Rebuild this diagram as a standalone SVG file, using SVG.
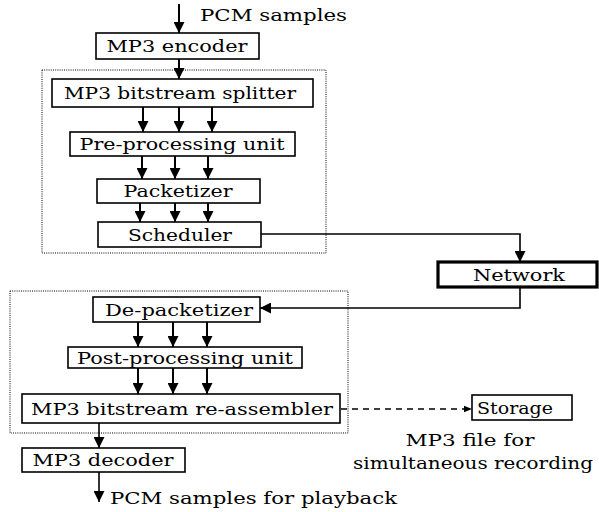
<svg xmlns="http://www.w3.org/2000/svg" width="599" height="512" viewBox="0 0 599 512">
<style>
.box{fill:#fff;stroke:#000;stroke-width:1.6}
.thick{fill:#fff;stroke:#000;stroke-width:3.2}
.dot{fill:none;stroke:#000;stroke-width:1;stroke-dasharray:1 1.2}
text{font-family:"DejaVu Serif","Liberation Serif",serif;font-size:16px;fill:#000}
.m{text-anchor:middle}
.ln{fill:none;stroke:#000;stroke-width:1.6}
.ln2{fill:none;stroke:#000;stroke-width:2}
.dash{fill:none;stroke:#000;stroke-width:1.4;stroke-dasharray:6 5}
</style>
<defs>
<marker id="ah" markerUnits="userSpaceOnUse" markerWidth="11" markerHeight="11" refX="10" refY="5" orient="auto" viewBox="0 0 10 10">
<path d="M0,0 L10,5 L0,10 z" fill="#000"/>
</marker>
<marker id="ahs" markerUnits="userSpaceOnUse" markerWidth="9" markerHeight="8" refX="10" refY="5" orient="auto" viewBox="0 0 10 10">
<path d="M0,1 L10,5 L0,9 z" fill="#000"/>
</marker>
</defs>

<rect class="dot" x="42" y="70" width="284" height="183"/>
<rect class="dot" x="10" y="291" width="338" height="142"/>

<g id="connectors">
<line class="ln2" x1="179" y1="4" x2="179" y2="33" marker-end="url(#ah)"/>
<line class="ln2" x1="179" y1="59" x2="179" y2="79" marker-end="url(#ah)"/>
<line class="ln2" x1="143" y1="107" x2="143" y2="132" marker-end="url(#ah)"/>
<line class="ln2" x1="179" y1="107" x2="179" y2="132" marker-end="url(#ah)"/>
<line class="ln2" x1="212" y1="107" x2="212" y2="132" marker-end="url(#ah)"/>
<line class="ln2" x1="142" y1="156" x2="142" y2="179" marker-end="url(#ah)"/>
<line class="ln2" x1="175" y1="156" x2="175" y2="179" marker-end="url(#ah)"/>
<line class="ln2" x1="208" y1="156" x2="208" y2="179" marker-end="url(#ah)"/>
<line class="ln2" x1="140" y1="203" x2="140" y2="222" marker-end="url(#ah)"/>
<line class="ln2" x1="175" y1="203" x2="175" y2="222" marker-end="url(#ah)"/>
<line class="ln2" x1="208" y1="203" x2="208" y2="222" marker-end="url(#ah)"/>
<polyline class="ln" points="261,234 520,234 520,262" marker-end="url(#ah)"/>
<polyline class="ln" points="520,287 520,308 260,308" marker-end="url(#ah)"/>
<line class="ln2" x1="138" y1="322" x2="138" y2="347" marker-end="url(#ah)"/>
<line class="ln2" x1="173" y1="322" x2="173" y2="347" marker-end="url(#ah)"/>
<line class="ln2" x1="207" y1="322" x2="207" y2="347" marker-end="url(#ah)"/>
<line class="ln2" x1="138" y1="368" x2="138" y2="394" marker-end="url(#ah)"/>
<line class="ln2" x1="173" y1="368" x2="173" y2="394" marker-end="url(#ah)"/>
<line class="ln2" x1="207" y1="368" x2="207" y2="394" marker-end="url(#ah)"/>
<line class="dash" x1="341" y1="409" x2="472" y2="409" marker-end="url(#ahs)"/>
<line class="ln" x1="99" y1="423" x2="99" y2="448" marker-end="url(#ah)"/>
<line class="ln" x1="99" y1="472" x2="99" y2="502" marker-end="url(#ah)"/>
</g>

<text x="200" y="21" textLength="147" lengthAdjust="spacingAndGlyphs">PCM samples</text>

<g id="encoder">
<rect class="box" x="96" y="33" width="163" height="26"/>
<text class="m" x="177" y="52" textLength="141" lengthAdjust="spacingAndGlyphs">MP3 encoder</text>
</g>
<g id="splitter">
<rect class="box" x="52" y="79" width="261" height="28"/>
<text class="m" x="180" y="99" textLength="232" lengthAdjust="spacingAndGlyphs">MP3 bitstream splitter</text>
</g>
<g id="preprocessing">
<rect class="box" x="70" y="132" width="225" height="24"/>
<text class="m" x="182" y="150" textLength="205" lengthAdjust="spacingAndGlyphs">Pre-processing unit</text>
</g>
<g id="packetizer">
<rect class="box" x="97" y="179" width="163" height="24"/>
<text class="m" x="178" y="197" textLength="109" lengthAdjust="spacingAndGlyphs">Packetizer</text>
</g>
<g id="scheduler">
<rect class="box" x="98" y="222" width="163" height="25"/>
<text class="m" x="180" y="240.5" textLength="104" lengthAdjust="spacingAndGlyphs">Scheduler</text>
</g>
<g id="network">
<rect class="thick" x="438" y="262" width="159" height="25"/>
<text class="m" x="519" y="280.5" textLength="92" lengthAdjust="spacingAndGlyphs">Network</text>
</g>
<g id="depacketizer">
<rect class="box" x="93" y="297" width="167" height="25"/>
<text class="m" x="179" y="315.5" textLength="148" lengthAdjust="spacingAndGlyphs">De-packetizer</text>
</g>
<g id="postprocessing">
<rect class="box" x="68" y="347" width="234" height="21"/>
<text class="m" x="185" y="363.5" textLength="216" lengthAdjust="spacingAndGlyphs">Post-processing unit</text>
</g>
<g id="reassembler">
<rect class="box" x="22" y="394" width="318" height="29"/>
<text class="m" x="182" y="414.5" textLength="302" lengthAdjust="spacingAndGlyphs">MP3 bitstream re-assembler</text>
</g>
<g id="storage">
<rect class="box" x="472" y="395" width="100" height="25"/>
<text x="477" y="413.5" textLength="76" lengthAdjust="spacingAndGlyphs">Storage</text>
</g>
<g id="decoder">
<rect class="box" x="22" y="448" width="163" height="24"/>
<text class="m" x="103" y="466" textLength="141" lengthAdjust="spacingAndGlyphs">MP3 decoder</text>
</g>

<text class="m" x="470" y="446" textLength="129" lengthAdjust="spacingAndGlyphs">MP3 file for</text>
<text class="m" x="473" y="469" textLength="240" lengthAdjust="spacingAndGlyphs">simultaneous recording</text>
<text x="110" y="504" textLength="287" lengthAdjust="spacingAndGlyphs">PCM samples for playback</text>
</svg>
